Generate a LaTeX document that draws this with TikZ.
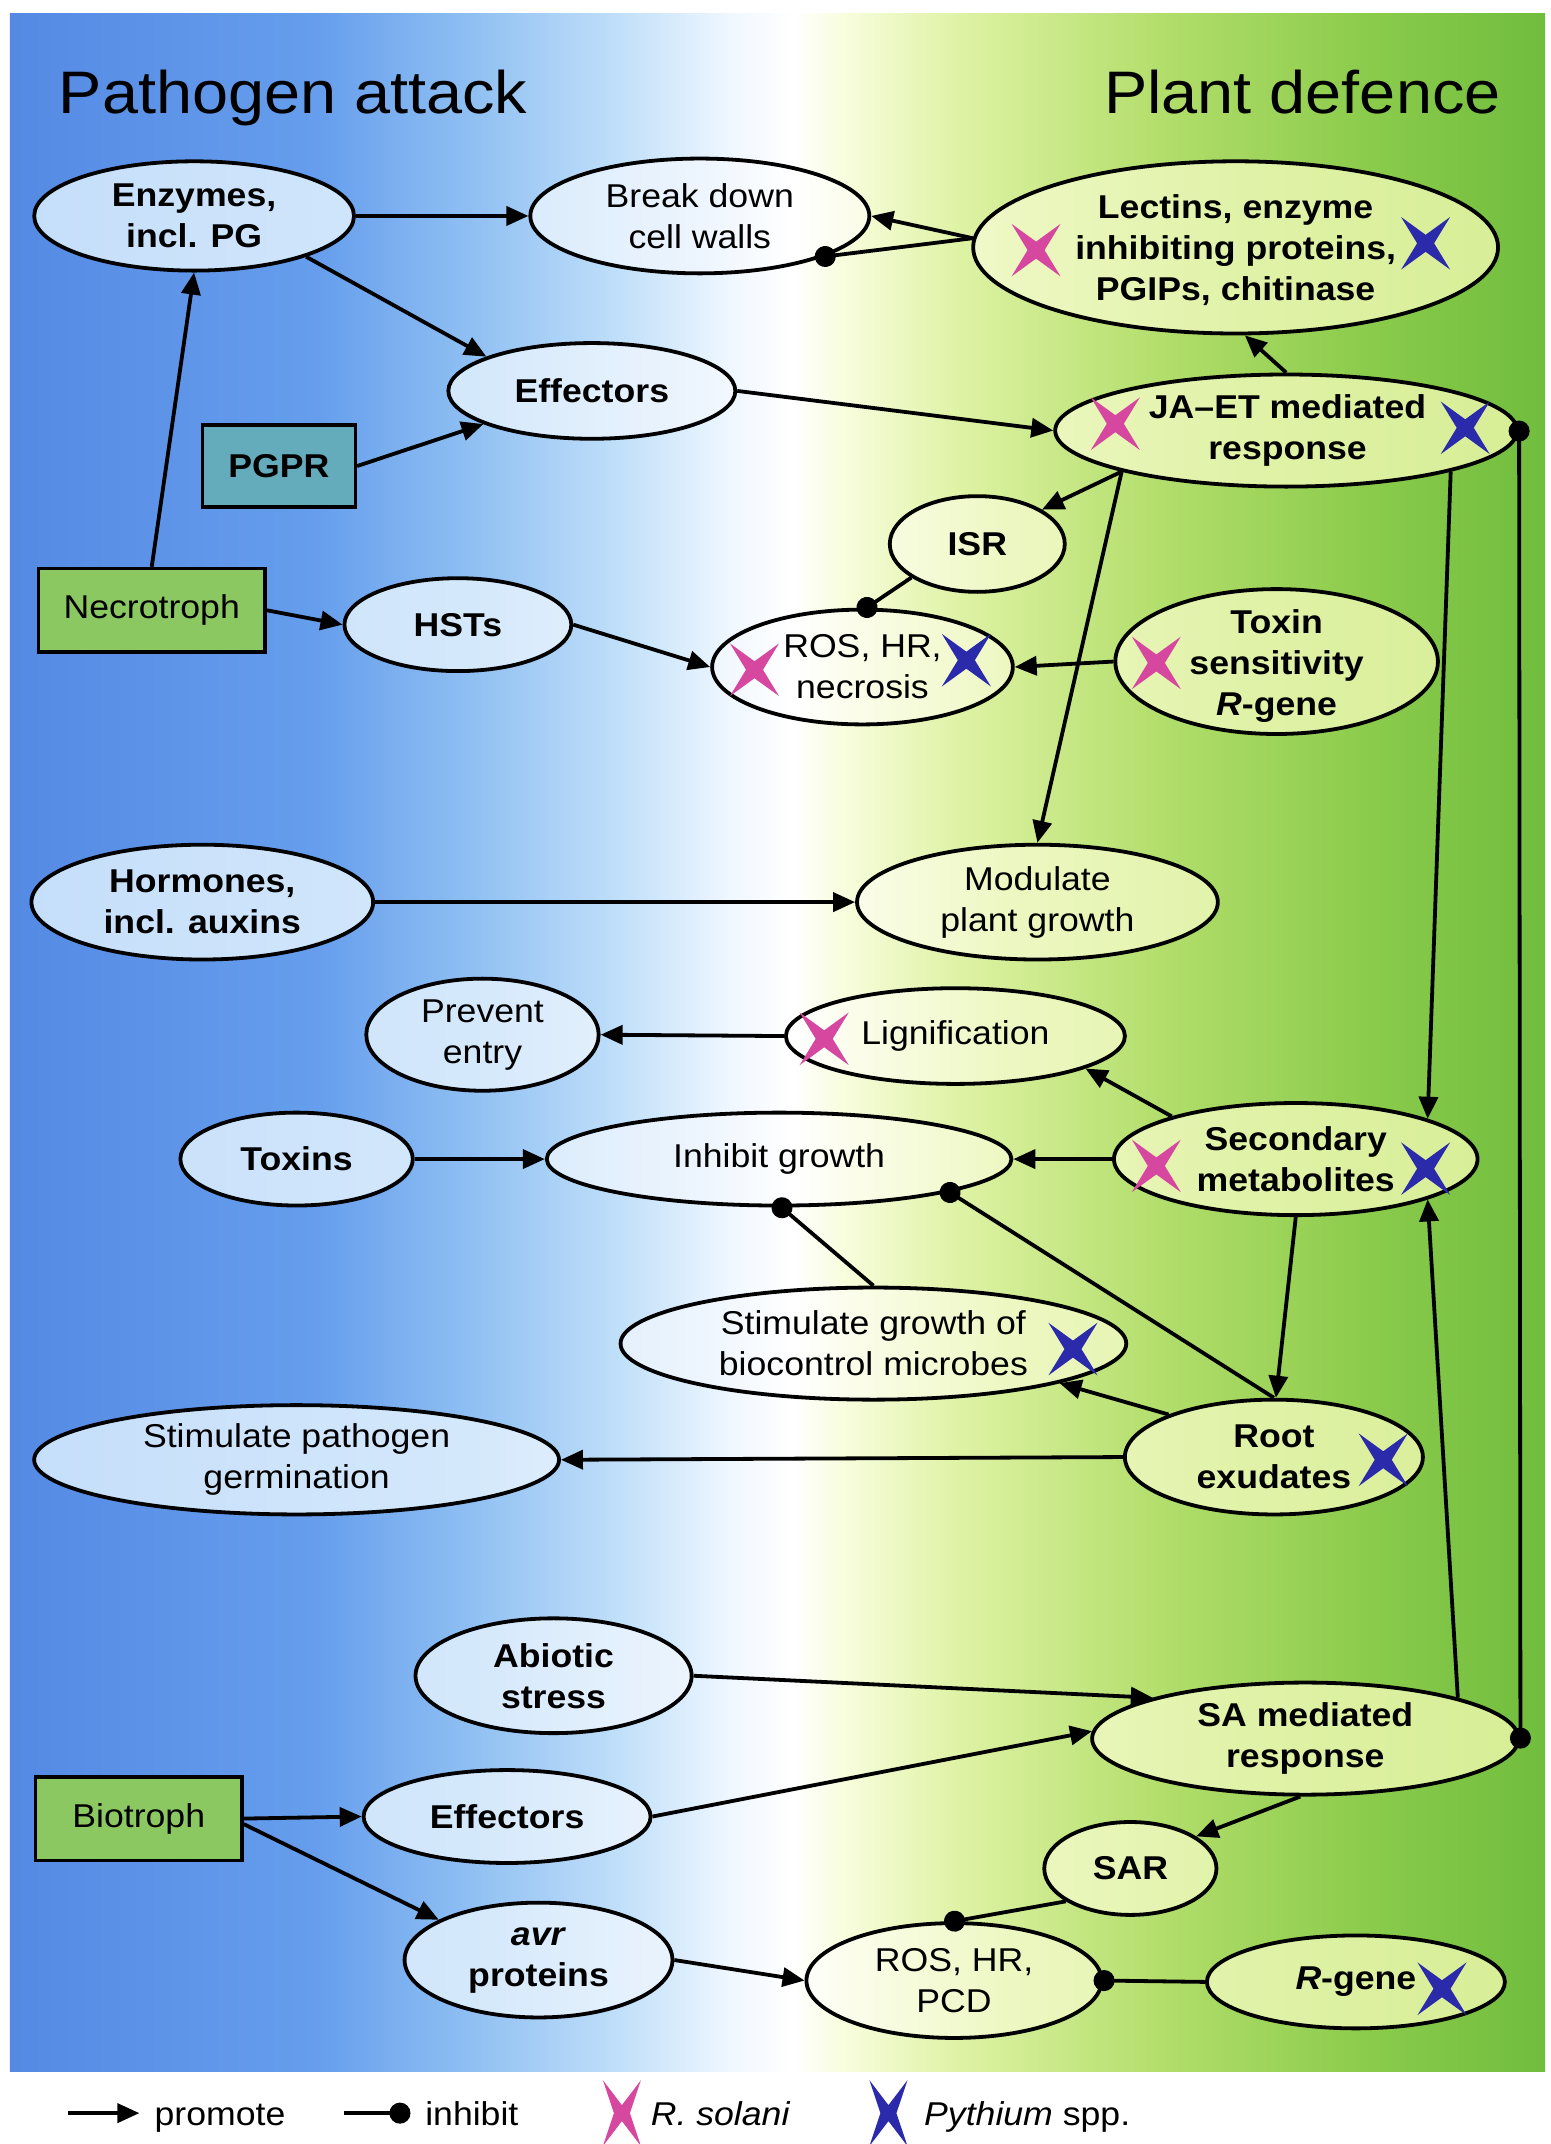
\documentclass[tikz,border=0pt]{standalone}
\usepackage{fontspec}
\setmainfont{Liberation Sans}[FakeStretch=1.08]
\usetikzlibrary{arrows.meta,shapes.geometric}

\pgfdeclarehorizontalshading{bgshade}{100bp}{
 rgb(0bp)=(0.33,0.54,0.89);
 rgb(25bp)=(0.33,0.54,0.89);
 rgb(35bp)=(0.40,0.62,0.93);
 rgb(40bp)=(0.56,0.75,0.95);
 rgb(45bp)=(0.76,0.88,0.98);
 rgb(48.5bp)=(0.94,0.97,1);
 rgb(50.5bp)=(1,1,1);
 rgb(52.25bp)=(0.97,0.99,0.86);
 rgb(56bp)=(0.87,0.95,0.64);
 rgb(62.5bp)=(0.70,0.87,0.42);
 rgb(69bp)=(0.55,0.80,0.30);
 rgb(75bp)=(0.44,0.74,0.24);
 rgb(100bp)=(0.44,0.74,0.24)}

\pgfdeclarehorizontalshading{pastel}{100bp}{
 rgb(0bp)=(0.77,0.87,0.98);
 rgb(25bp)=(0.77,0.87,0.98);
 rgb(40bp)=(0.83,0.91,0.985);
 rgb(47.5bp)=(0.93,0.96,0.995);
 rgb(50.5bp)=(1,1,1);
 rgb(53bp)=(0.98,0.99,0.90);
 rgb(57.5bp)=(0.93,0.97,0.76);
 rgb(65bp)=(0.88,0.95,0.66);
 rgb(75bp)=(0.84,0.93,0.58);
 rgb(100bp)=(0.84,0.93,0.58)}

\definecolor{xpink}{RGB}{214,72,160}
\definecolor{xblue}{RGB}{42,42,170}
\definecolor{pgprc}{RGB}{100,172,188}
\definecolor{boxg}{RGB}{140,200,98}

\tikzset{
  ell/.style={ellipse, draw=black, line width=3.8pt, inner sep=0pt,
    path picture={\shade[shading=pastel] (bgnw) rectangle (bgse);}},
  box/.style={rectangle, draw=black, line width=3.5pt, inner sep=0pt},
  lbl/.style={align=center, inner sep=0pt, font=\fontsize{33}{41}\selectfont},
  blbl/.style={align=center, inner sep=0pt, font=\fontsize{33}{41}\selectfont\bfseries},
  ttl/.style={inner sep=0pt, font=\fontsize{60}{70}\selectfont},
  prom/.style={line width=3.8pt, -{Triangle[length=22pt,width=19pt]}},
  inhb/.style={line width=3.8pt, -{Circle[length=21pt]}, shorten >=-10pt},
  inhtwo/.style={line width=3.8pt, {Circle[length=21pt]}-{Circle[length=21pt]}, shorten >=-10pt, shorten <=-10pt},
  pics/xm/.style={code={\fill[#1] (47:36pt) -- (90:8.5pt) -- (133:36pt) -- (180:8.5pt) -- (227:36pt) -- (270:8.5pt) -- (313:36pt) -- (0:8.5pt) -- cycle;}},
  pics/xmbig/.style={code={\fill[#1] (60:38pt) -- (90:8pt) -- (120:38pt) -- (180:8pt) -- (240:38pt) -- (270:8pt) -- (300:38pt) -- (0:8pt) -- cycle;}},
}

\begin{document}
\begin{tikzpicture}[x=1.3668pt, y=-1.3668pt]
\useasboundingbox (0,0) rectangle (1134.03,1568.6);
\fill[white] (0,0) rectangle (1134.03,1568.6);
\coordinate (bgnw) at (7.3,10.2);
\coordinate (bgse) at (1130.4,1515.3);
\shade[shading=bgshade] (bgnw) rectangle (bgse);

% titles
\node[ttl, anchor=base west] (tpa) at (43,83) {Pathogen attack};
\node[ttl, anchor=base east] (tpd) at (1098,83) {Plant defence};

% nodes
\node[ell, minimum width=319.8pt, minimum height=109.3pt] (enz) at (142,158) {};
\node[blbl] (enzT) at (enz) {Enzymes,\\incl. PG};
\node[ell, minimum width=339pt, minimum height=114.8pt] (bdw) at (512,158) {};
\node[lbl] (bdwT) at (bdw) {Break down\\cell walls};
\node[ell, minimum width=524.9pt, minimum height=172.2pt] (lec) at (904,181) {};
\node[blbl] (lecT) at (904,183) {Lectins, enzyme\\inhibiting proteins,\\PGIPs, chitinase};
\node[ell, minimum width=287pt, minimum height=95.7pt] (eff1) at (433,286) {};
\node[blbl] (eff1T) at (eff1) {Effectors};
\node[box, fill=pgprc, minimum width=153.1pt, minimum height=82pt] (pgpr) at (204,341) {};
\node[blbl] (pgprT) at (pgpr) {PGPR};
\node[ell, minimum width=462pt, minimum height=112.1pt] (jaet) at (941,315) {};
\node[blbl] (jaetT) at (942,315) {JA–ET mediated\\response};
\node[ell, minimum width=175pt, minimum height=95.7pt] (isr) at (715,398) {};
\node[blbl] (isrT) at (isr) {ISR};
\node[box, fill=boxg, minimum width=226.9pt, minimum height=83.4pt] (necro) at (111,446.5) {};
\node[lbl] (necroT) at (necro) {Necrotroph};
\node[ell, minimum width=226.9pt, minimum height=92.9pt] (hst) at (335,457) {};
\node[blbl] (hstT) at (hst) {HSTs};
\node[ell, minimum width=300.7pt, minimum height=114.8pt] (ros1) at (631,488) {};
\node[lbl] (ros1T) at (ros1) {ROS, HR,\\necrosis};
\node[ell, minimum width=322.6pt, minimum height=144.9pt] (tox) at (934,484) {};
\node[blbl] (toxT) at (934,487) {Toxin\\sensitivity\\\textit{R}-gene};
\node[ell, minimum width=341.7pt, minimum height=114.8pt] (hor) at (148,660) {};
\node[blbl] (horT) at (hor) {Hormones,\\incl. auxins};
\node[ell, minimum width=360.8pt, minimum height=114.8pt] (mod) at (759,660) {};
\node[lbl] (modT) at (mod) {Modulate\\plant growth};
\node[ell, minimum width=232.4pt, minimum height=112.1pt] (prev) at (353,757) {};
\node[lbl] (prevT) at (prev) {Prevent\\entry};
\node[ell, minimum width=339pt, minimum height=95.7pt] (lig) at (699,758) {};
\node[lbl] (ligT) at (lig) {Lignification};
\node[ell, minimum width=232.4pt, minimum height=92.9pt] (toxins) at (217,848) {};
\node[blbl] (toxinsT) at (toxins) {Toxins};
\node[ell, minimum width=464.7pt, minimum height=92.9pt] (inh) at (570,848) {};
\node[lbl] (inhT) at (inh) {Inhibit growth};
\node[ell, minimum width=363.6pt, minimum height=112.1pt] (sec) at (948,848) {};
\node[blbl] (secT) at (sec) {Secondary\\metabolites};
\node[ell, minimum width=505.7pt, minimum height=112.1pt] (stim) at (639,983) {};
\node[lbl] (stimT) at (stim) {Stimulate growth of\\biocontrol microbes};
\node[ell, minimum width=524.9pt, minimum height=109.3pt] (germ) at (217,1068) {};
\node[lbl] (germT) at (germ) {Stimulate pathogen\\germination};
\node[ell, minimum width=298pt, minimum height=114.8pt] (root) at (932,1066) {};
\node[blbl] (rootT) at (root) {Root\\exudates};
\node[ell, minimum width=276.1pt, minimum height=114.8pt] (abio) at (405,1226) {};
\node[blbl] (abioT) at (abio) {Abiotic\\stress};
\node[ell, minimum width=426.4pt, minimum height=112.1pt] (sa) at (955,1272) {};
\node[blbl] (saT) at (sa) {SA mediated\\response};
\node[box, fill=boxg, minimum width=206.4pt, minimum height=83.4pt] (bio) at (101.5,1330.5) {};
\node[lbl] (bioT) at (bio) {Biotroph};
\node[ell, minimum width=287pt, minimum height=92.9pt] (eff2) at (371,1329) {};
\node[blbl] (eff2T) at (eff2) {Effectors};
\node[ell, minimum width=172.2pt, minimum height=92.9pt] (sar) at (827,1367) {};
\node[blbl] (sarT) at (sar) {SAR};
\node[ell, minimum width=267.9pt, minimum height=114.8pt] (avr) at (394,1434) {};
\node[blbl] (avrT) at (avr) {\textit{avr}\\proteins};
\node[ell, minimum width=295.2pt, minimum height=114.8pt] (ros2) at (698,1449) {};
\node[lbl] (ros2T) at (ros2) {ROS, HR,\\PCD};
\node[ell, minimum width=298pt, minimum height=92.9pt] (rgene) at (992,1450) {};
\node[blbl] (rgeneT) at (rgene) {\textit{R}-gene};

% crosses
\pic at (758,183) {xm=xpink};
\pic at (1043,178) {xm=xblue};
\pic at (816,310) {xm=xpink};
\pic at (1072,313) {xm=xblue};
\pic at (552,490) {xm=xpink};
\pic at (707,483) {xm=xblue};
\pic at (846,485) {xm=xpink};
\pic at (603,760) {xm=xpink};
\pic at (846,853) {xm=xpink};
\pic at (1043,855) {xm=xblue};
\pic at (785,987) {xm=xblue};
\pic at (1012,1068) {xm=xblue};
\pic at (1055,1455) {xm=xblue};

% connectors
\draw[prom] (enz.east) -- (bdw.west);
\draw[prom] (enz.-20) -- (eff1.162);
\draw[prom] (lec.178) -- (bdw.east);
\draw[inhb] (lec.178) -- (bdw.-18);
\draw[prom] (jaet.north) -- (lec.-84);
\draw[prom] (eff1.east) -- (jaet.west);
\draw[prom] (pgpr.east) -- (eff1.197);
\draw[prom] (necro.north) -- (enz.south);
\draw[prom] (necro.east) -- (hst.west);
\draw[prom] (hst.east) -- (ros1.west);
\draw[inhb] (isr.207) -- (ros1.86);
\draw[prom] (jaet.194) -- (isr.28);
\draw[prom] (jaet.194) -- (mod.north);
\draw[prom] (jaet.-14) -- (sec.17);
\draw[inhtwo] (jaet.east) -- (sa.east);
\draw[prom] (hor.east) -- (mod.west);
\draw[prom] (tox.west) -- (ros1.east);
\draw[prom] (lig.west) -- (prev.east);
\draw[prom] (sec.161) -- (lig.-14);
\draw[prom] (toxins.east) -- (inh.west);
\draw[prom] (sec.west) -- (inh.east);
\draw[inhb] (stim.north) -- (inh.-87);
\draw[inhb] (root.north) -- (inh.-11);
\draw[prom] (sec.south) -- (root.88);
\draw[prom] (root.158) -- (stim.-12);
\draw[prom] (root.west) -- (germ.east);
\draw[prom] (sa.15) -- (sec.-17);
\draw[prom] (abio.east) -- (sa.165);
\draw[prom] (eff2.east) -- (sa.178);
\draw[prom] (bio.east) -- (eff2.west);
\draw[prom] (bio.-3) -- (avr.158);
\draw[prom] (sa.-95) -- (sar.26);
\draw[inhb] (sar.207) -- (ros2.north);
\draw[prom] (avr.east) -- (ros2.west);
\draw[inhb] (rgene.west) -- (ros2.east);

% legend
\coordinate (lA1) at (50,1546);
\coordinate (lA2) at (102,1546);
\draw[prom] (lA1) -- (lA2);
\node[lbl, anchor=base west] (lP) at (113,1555) {promote};
\coordinate (lI1) at (252,1546);
\coordinate (lI2) at (293,1546);
\draw[inhb] (lI1) -- (lI2);
\node[lbl, anchor=base west] (lIn) at (311,1555) {inhibit};
\pic at (455,1546) {xmbig=xpink};
\node[lbl, anchor=base west] (lR) at (476,1555) {\textit{R. solani}};
\pic at (650,1546) {xmbig=xblue};
\node[lbl, anchor=base west] (lPy) at (676,1555) {\textit{Pythium} spp.};
\end{tikzpicture}
\end{document}
